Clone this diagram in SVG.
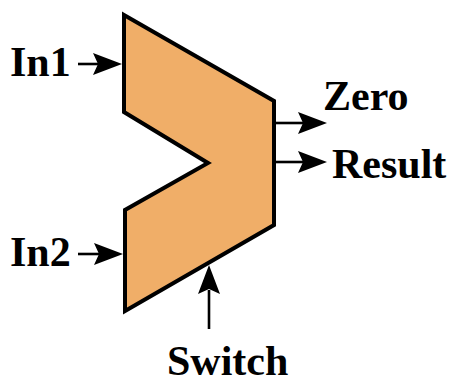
<svg xmlns="http://www.w3.org/2000/svg" width="454" height="384" viewBox="0 0 454 384">
  <style>
    .lbl { font-family: "Liberation Serif", "Times New Roman", serif; font-weight: bold; font-size: 42px; fill: #000; }
    .wire { stroke: #000; stroke-width: 2.6; fill: none; }
    .body { fill: #F0AE68; stroke: #000; stroke-width: 4; stroke-linejoin: miter; }
  </style>
  <defs>
    <!-- arrowhead pointing right, tip at the origin -->
    <path id="head" d="M0,0 L-29,-11 L-24,0 L-29,11 Z" fill="#000"/>
  </defs>

  <!-- ALU body -->
  <g id="alu">
    <polygon class="body" points="124,15 274,101 274,225 125,311 125,210 208,163 124,112"/>
  </g>

  <!-- connectors -->
  <g id="connectors">
    <line class="wire" x1="78" y1="64" x2="100" y2="64"/>
    <use href="#head" transform="translate(122,64)"/>
    <line class="wire" x1="78" y1="254" x2="100" y2="254"/>
    <use href="#head" transform="translate(123,254)"/>
    <line class="wire" x1="276" y1="123" x2="305" y2="123"/>
    <use href="#head" transform="translate(327,123)"/>
    <line class="wire" x1="276" y1="162" x2="305" y2="162"/>
    <use href="#head" transform="translate(327,162)"/>
    <line class="wire" x1="209" y1="329" x2="209" y2="290"/>
    <use href="#head" transform="translate(209,265) rotate(-90)"/>
  </g>

  <!-- labels -->
  <g id="in1"><text class="lbl" x="10" y="76">In1</text></g>
  <g id="in2"><text class="lbl" x="10" y="266">In2</text></g>
  <g id="zero"><text class="lbl" x="323" y="110">Zero</text></g>
  <g id="result"><text class="lbl" x="332" y="178">Result</text></g>
  <g id="switch"><text class="lbl" x="167" y="375">Switch</text></g>
</svg>
